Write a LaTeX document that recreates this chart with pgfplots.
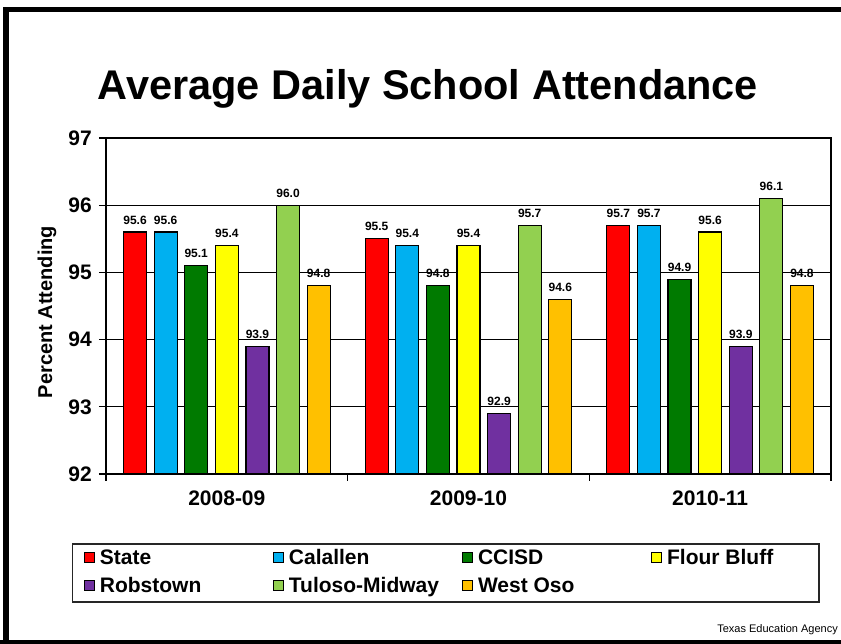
\documentclass[border=0pt]{standalone}
\usepackage{pgfplots}
\usepackage{pgfplotstable}
\pgfplotsset{compat=1.18}
\usepackage{fontspec}
\setmainfont{Liberation Sans}

\definecolor{cState}{HTML}{FF0000}
\definecolor{cCalallen}{HTML}{00B0F0}
\definecolor{cCCISD}{HTML}{007A00}
\definecolor{cFlour}{HTML}{FFFF00}
\definecolor{cRob}{HTML}{7030A0}
\definecolor{cTul}{HTML}{92D050}
\definecolor{cWest}{HTML}{FFC000}

\pgfplotstableread{
x State Calallen CCISD FlourBluff Robstown Tuloso WestOso
0 95.6 95.6 95.1 95.4 93.9 96.0 94.8
1 95.5 95.4 94.8 95.4 92.9 95.7 94.6
2 95.7 95.7 94.9 95.6 93.9 96.1 94.8
}\datatable

\begin{document}
\begin{tikzpicture}
\useasboundingbox (0,0) rectangle (841pt,644pt);
\fill[black] (3pt,0pt) rectangle (9pt,637pt);
\fill[black] (3pt,632pt) rectangle (841pt,637pt);
\fill[black] (0pt,0pt) rectangle (841pt,4pt);
\begin{axis}[
  at={(106pt,170pt)}, anchor=south west,
  scale only axis, width=725pt, height=336pt,
  ybar=7.6pt, bar width=23pt,
  xmin=-0.5, xmax=2.5, ymin=92, ymax=97,
  ytick={92,93,94,95,96,97},
  xtick={-0.5,0.5,1.5,2.5}, xticklabels={},
  extra x ticks={0,1,2},
  extra x tick labels={2008-09,2009-10,2010-11},
  extra x tick style={tick style={draw=none}, grid=none},
  ymajorgrids, grid style={black, line width=1.2pt},
  axis line style={black, line width=1.2pt},
  tick style={black, line width=1.2pt},
  tick align=outside, tick pos=left, major tick length=7pt,
  /pgf/number format/assume math mode=true,
  ticklabel style={font=\fontsize{21}{21}\selectfont\bfseries},
  yticklabel style={anchor=east, inner sep=0pt, xshift=-7pt},
  xticklabel style={anchor=base, inner sep=0pt, yshift=-25pt},
  ylabel={Percent Attending},
  ylabel style={at={(axis description cs:-0.0814,0.482)}, anchor=center, font=\fontsize{20}{20}\selectfont\bfseries},
  title={Average Daily School Attendance},
  title style={at={(axis description cs:0.444,1.098)}, anchor=base, font=\fontsize{41.5}{41.5}\selectfont\bfseries},
  legend columns=4,
  legend style={at={(axis description cs:-0.0469,-0.2054)}, anchor=north west,
    draw=black!85, line width=1.5pt, inner xsep=11pt, inner ysep=3pt,
    column sep=0pt, row sep=4pt, cells={anchor=base west},
    nodes={inner sep=0pt, text height=18pt, text depth=6pt},
    font=\fontsize{21}{21}\selectfont\bfseries},
  every axis plot/.append style={
    legend image code/.code={\draw[#1,/tikz/.cd,draw=black,line width=1pt] (0pt,2.5pt) rectangle (10pt,12.5pt); \path (15pt,0pt);}
  },
  nodes near coords,
  every node near coord/.append style={font=\fontsize{12}{12}\selectfont\bfseries, text=black, anchor=base, inner sep=0pt, yshift=8pt, /pgf/number format/.cd, fixed, fixed zerofill, precision=1},
]
\addplot[fill=cState, draw=black, line width=1.2pt] table[x=x,y=State]{\datatable};
\addlegendentry{\makebox[173pt][l]{State}}
\addplot[fill=cCalallen, draw=black, line width=1.2pt] table[x=x,y=Calallen]{\datatable};
\addlegendentry{\makebox[173pt][l]{Calallen}}
\addplot[fill=cCCISD, draw=black, line width=1.2pt] table[x=x,y=CCISD]{\datatable};
\addlegendentry{\makebox[173pt][l]{CCISD}}
\addplot[fill=cFlour, draw=black, line width=1.2pt] table[x=x,y=FlourBluff]{\datatable};
\addlegendentry{\makebox[141pt][l]{Flour Bluff}}
\addplot[fill=cRob, draw=black, line width=1.2pt] table[x=x,y=Robstown]{\datatable};
\addlegendentry{\makebox[173pt][l]{Robstown}}
\addplot[fill=cTul, draw=black, line width=1.2pt] table[x=x,y=Tuloso]{\datatable};
\addlegendentry{\makebox[173pt][l]{Tuloso-Midway}}
\addplot[fill=cWest, draw=black, line width=1.2pt] table[x=x,y=WestOso]{\datatable};
\addlegendentry{\makebox[173pt][l]{West Oso}}
\end{axis}
\node[anchor=base east, font=\fontsize{11}{11}\selectfont, inner sep=0pt] at (838pt,11pt) {Texas Education Agency};
\end{tikzpicture}
\end{document}
